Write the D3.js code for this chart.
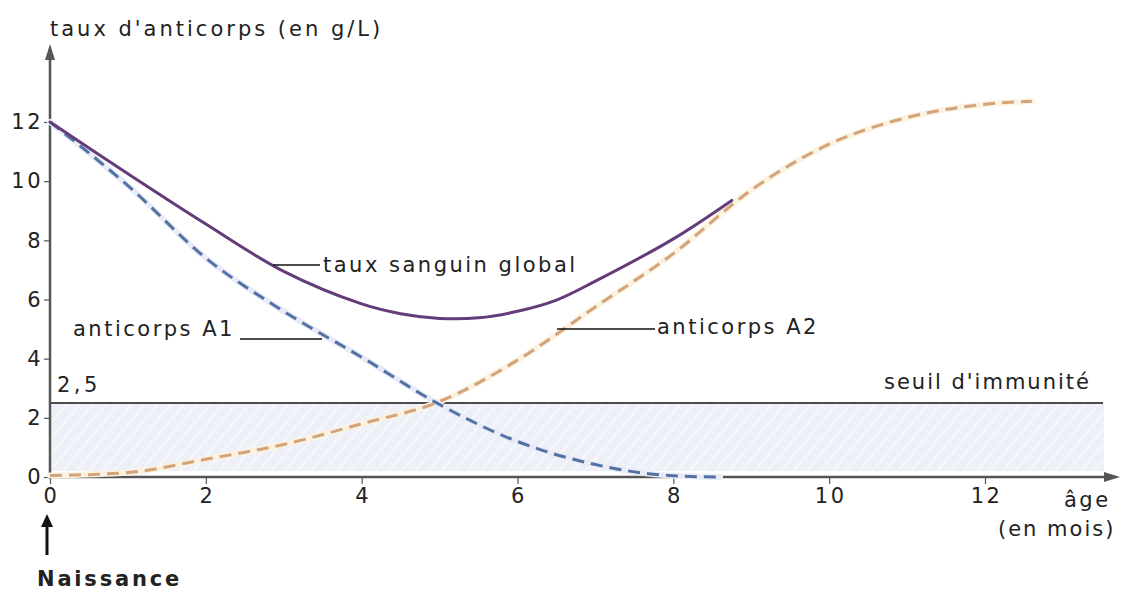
<!DOCTYPE html>
<html>
<head>
<meta charset="utf-8">
<script src="https://cdn.jsdelivr.net/npm/d3@7/dist/d3.min.js"></script>
<style>
  html, body { margin: 0; padding: 0; background: #fff; }
  svg text {
    font-family: "DejaVu Sans", Verdana, sans-serif;
    fill: #222;
    font-size: 21px;
    letter-spacing: 2.5px;
  }
</style>
</head>
<body>
<div id="chart"></div>
<script>
// values (age in months, level in g/L)
const xTicks = [0, 2, 4, 6, 8, 10, 12];
const yTicks = [0, 2, 4, 6, 8, 10, 12];
const threshold = 2.5;

const globalLevel = [
  [0, 12], [1, 10.25], [2, 8.55], [3, 6.95], [4, 5.85], [4.5, 5.52],
  [5, 5.36], [5.5, 5.38], [6, 5.6], [6.5, 5.98], [7, 6.62],
  [8, 8.05], [8.75, 9.35]
];
const antibodyA1 = [
  [0, 12], [1, 9.85], [2, 7.4], [3, 5.6], [4, 4.05], [5, 2.45],
  [6, 1.2], [7, 0.42], [8, 0.04], [8.6, 0]
];
const antibodyA2 = [
  [0, 0.05], [1, 0.15], [2, 0.6], [3, 1.1], [4, 1.8], [5, 2.55],
  [6, 3.95], [7, 5.75], [8, 7.55], [9, 9.7], [10, 11.25],
  [11, 12.15], [12, 12.6], [12.6, 12.7]
];

const width = 1122, height = 592;

const x = d3.scaleLinear().domain([0, 12]).range([50, 985]);
const y = d3.scaleLinear().domain([0, 12]).range([477, 122]);

const svg = d3.select('#chart').append('svg')
  .attr('width', width)
  .attr('height', height);

const defs = svg.append('defs');
const pat = defs.append('pattern')
  .attr('id', 'hatch')
  .attr('patternUnits', 'userSpaceOnUse')
  .attr('width', 10)
  .attr('height', 10)
  .attr('patternTransform', 'rotate(40)');
pat.append('rect').attr('width', 10).attr('height', 10).attr('fill', '#eef0f8');
pat.append('line')
  .attr('x1', 0).attr('y1', 0).attr('x2', 0).attr('y2', 10)
  .attr('stroke', '#f9f9fd').attr('stroke-width', 3);

// immunity zone (below threshold)
svg.append('rect')
  .attr('x', x(0) + 1)
  .attr('y', y(threshold))
  .attr('width', 1103 - x(0))
  .attr('height', y(0.2) - y(threshold))
  .attr('fill', 'url(#hatch)');

// threshold line
svg.append('line')
  .attr('x1', x(0)).attr('x2', 1103)
  .attr('y1', y(threshold)).attr('y2', y(threshold))
  .attr('stroke', '#111').attr('stroke-width', 1.5);

// axes
const axisColor = '#555';

const yAxis = svg.append('g')
  .attr('transform', 'translate(' + x(0) + ',0)')
  .call(d3.axisLeft(y).tickValues(yTicks).tickSize(6).tickSizeOuter(0).tickPadding(1));
yAxis.select('.domain').remove();
yAxis.selectAll('line').attr('stroke', axisColor).attr('stroke-width', 1.2);
yAxis.selectAll('text')
  .attr('font-size', null)
  .attr('font-family', null)
  .attr('fill', null);

const xAxis = svg.append('g')
  .attr('transform', 'translate(0,' + y(0) + ')')
  .call(d3.axisBottom(x).tickValues(xTicks).tickSize(7).tickSizeOuter(0).tickPadding(4));
xAxis.select('.domain').remove();
xAxis.selectAll('line').attr('stroke', axisColor).attr('stroke-width', 1.2);
xAxis.selectAll('text')
  .attr('font-size', null)
  .attr('font-family', null)
  .attr('fill', null)
  .attr('dx', '1px');

// axis lines with arrow heads
svg.append('line')
  .attr('x1', x(0)).attr('x2', x(0))
  .attr('y1', y(0) + 2).attr('y2', 52)
  .attr('stroke', axisColor).attr('stroke-width', 2.5);
svg.append('path')
  .attr('d', 'M' + x(0) + ',44 L' + (x(0) - 5) + ',60 L' + (x(0) + 5) + ',60 Z')
  .attr('fill', axisColor);

svg.append('line')
  .attr('x1', x(0)).attr('x2', 1110)
  .attr('y1', y(0)).attr('y2', y(0))
  .attr('stroke', axisColor).attr('stroke-width', 2.5);
svg.append('path')
  .attr('d', 'M1120,' + y(0) + ' L1104,' + (y(0) - 5) + ' L1104,' + (y(0) + 5) + ' Z')
  .attr('fill', axisColor);

// curves
const line = d3.line()
  .curve(d3.curveMonotoneX)
  .x(d => x(d[0]))
  .y(d => y(d[1]));

const smoothLine = d3.line()
  .curve(d3.curveCatmullRom.alpha(0.5))
  .x(d => x(d[0]))
  .y(d => y(d[1]));

// soft halos behind the dashed curves
svg.append('path').datum(antibodyA2)
  .attr('d', line).attr('fill', 'none')
  .attr('stroke', '#fcf2e2').attr('stroke-width', 6).attr('stroke-linecap', 'round');
svg.append('path').datum(antibodyA1)
  .attr('d', line).attr('fill', 'none')
  .attr('stroke', '#e9ecf6').attr('stroke-width', 6).attr('stroke-linecap', 'round');

svg.append('path').datum(antibodyA2)
  .attr('d', line).attr('fill', 'none')
  .attr('stroke', '#d3a37a').attr('stroke-width', 3)
  .attr('stroke-dasharray', '12 7');

svg.append('path').datum(antibodyA1)
  .attr('d', line).attr('fill', 'none')
  .attr('stroke', '#5471a3').attr('stroke-width', 3)
  .attr('stroke-dasharray', '12 7');

svg.append('path').datum(globalLevel)
  .attr('d', smoothLine).attr('fill', 'none')
  .attr('stroke', '#643c7a').attr('stroke-width', 3)
  .attr('stroke-linecap', 'round');

// labels with leader lines
const labels = [
  {text: 'taux sanguin global', tx: 323, ty: 272, lx1: 273, lx2: 320, ly: 265},
  {text: 'anticorps A1', tx: 73, ty: 336, lx1: 240, lx2: 322, ly: 339},
  {text: 'anticorps A2', tx: 657, ty: 334, lx1: 557, lx2: 655, ly: 329}
];
labels.forEach(l => {
  svg.append('line')
    .attr('x1', l.lx1).attr('x2', l.lx2)
    .attr('y1', l.ly).attr('y2', l.ly)
    .attr('stroke', '#111').attr('stroke-width', 1.5);
  svg.append('text')
    .attr('x', l.tx).attr('y', l.ty)
    .text(l.text);
});

// axis titles and annotations
svg.append('text')
  .attr('x', 50).attr('y', 36)
  .style('letter-spacing', '3px')
  .text("taux d'anticorps (en g/L)");

svg.append('text')
  .attr('x', 57).attr('y', 392)
  .style('letter-spacing', '3.5px')
  .text('2,5');

svg.append('text')
  .attr('x', 884).attr('y', 389)
  .style('letter-spacing', '2px')
  .text("seuil d'immunité");

svg.append('text')
  .attr('x', 1064).attr('y', 507)
  .text('âge');

svg.append('text')
  .attr('x', 998).attr('y', 536)
  .style('letter-spacing', '2px')
  .text('(en mois)');

// birth marker
svg.append('line')
  .attr('x1', 47).attr('x2', 47)
  .attr('y1', 555).attr('y2', 524)
  .attr('stroke', '#111').attr('stroke-width', 3);
svg.append('path')
  .attr('d', 'M47,514 L41,527 L53,527 Z')
  .attr('fill', '#111');

svg.append('text')
  .attr('x', 37).attr('y', 586)
  .attr('font-weight', 'bold')
  .style('letter-spacing', '2.8px')
  .text('Naissance');
</script>
</body>
</html>
